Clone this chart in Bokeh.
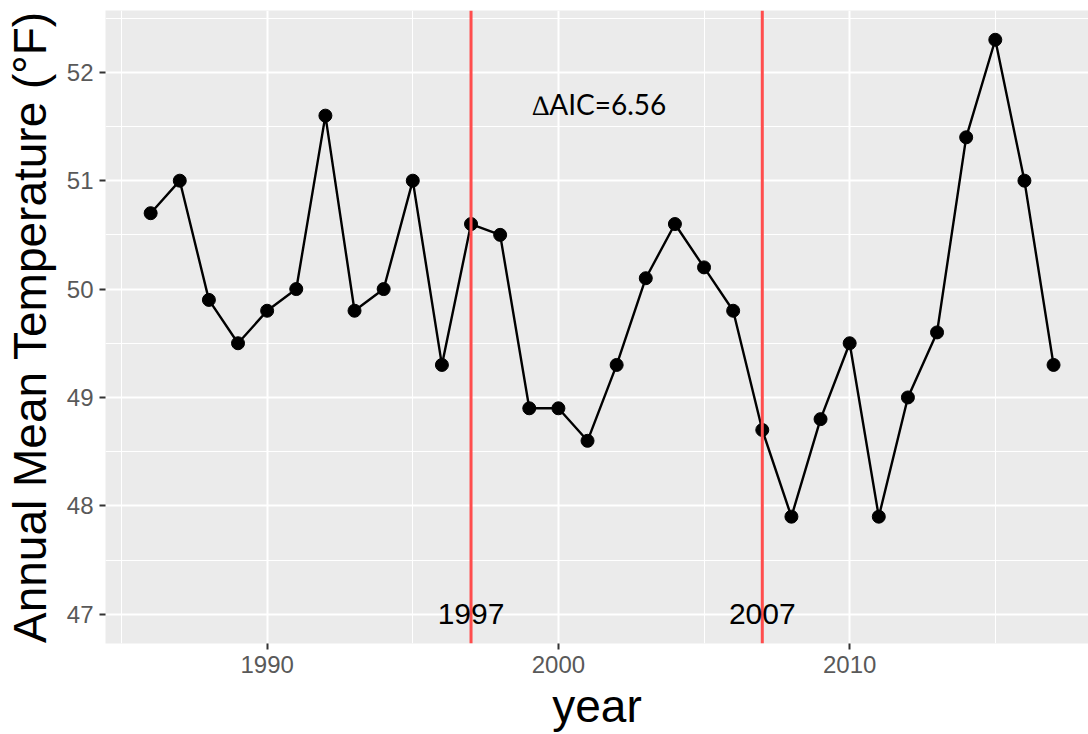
from bokeh.plotting import figure
from bokeh.models import Range1d, FixedTicker, Span, Label
from bokeh.embed import file_html
from bokeh.resources import INLINE

years = list(range(1986, 2018))
temps = [50.7, 51.0, 49.9, 49.5, 49.8, 50.0, 51.6, 49.8, 50.0, 51.0,
         49.3, 50.6, 50.5, 48.9, 48.9, 48.6, 49.3, 50.1, 50.6, 50.2,
         49.8, 48.7, 47.9, 48.8, 49.5, 47.9, 49.0, 49.6, 51.4, 52.3,
         51.0, 49.3]
breaks = [1997, 2007]
break_labels = ["1997", "2007"]
x_ticks = [1990, 2000, 2010]
x_minor = [1985, 1995, 2005, 2015]
y_ticks = [47, 48, 49, 50, 51, 52]
y_minor = [46.5, 47.5, 48.5, 49.5, 50.5, 51.5, 52.5]
aic_text = "\u2206AIC=6.56"

FONT = "Liberation Sans"

p = figure(width=1088, height=734, output_backend="svg", toolbar_location=None,
           x_range=Range1d(1984.45, 2018.2), y_range=Range1d(46.73, 52.57),
           min_border_left=105, min_border_right=0, min_border_top=10,
           min_border_bottom=90)
p.outline_line_color = None
p.background_fill_color = "#ebebeb"
p.border_fill_color = "white"

p.xaxis.ticker = FixedTicker(ticks=x_ticks, minor_ticks=x_minor)
p.yaxis.ticker = FixedTicker(ticks=y_ticks, minor_ticks=y_minor)
for ax in (p.xaxis, p.yaxis):
    ax.axis_line_color = None
    ax.major_tick_line_color = "#333333"
    ax.major_tick_line_width = 2
    ax.major_tick_out = 6
    ax.major_tick_in = 0
    ax.minor_tick_line_color = None
    ax.major_label_text_font = FONT
    ax.major_label_text_font_size = "24px"
    ax.major_label_text_color = "#595959"
    ax.axis_label_text_font = FONT
    ax.axis_label_text_font_size = "46px"
    ax.axis_label_text_font_style = "normal"
    ax.axis_label_text_color = "black"
p.xaxis.axis_label = "year"
p.yaxis.axis_label = "Annual Mean Temperature (\u00b0F)"
p.xaxis.major_label_standoff = 6
p.yaxis.major_label_standoff = 6
p.xaxis.axis_label_standoff = 4
p.yaxis.axis_label_standoff = 8

for g in (p.xgrid, p.ygrid):
    g.grid_line_color = "white"
    g.grid_line_width = 2
    g.minor_grid_line_color = "white"
    g.minor_grid_line_width = 1

for b in breaks:
    p.add_layout(Span(location=b, dimension="height", line_color="#ff4d4d",
                      line_width=3))

p.line(years, temps, line_color="black", line_width=2.4)
p.scatter(years, temps, size=13, fill_color="black", line_color="black")

for b, t in zip(breaks, break_labels):
    p.add_layout(Label(x=b, y=47, text=t, text_align="center",
                       text_baseline="middle", text_font=FONT,
                       text_font_size="30px", text_color="black"))

p.add_layout(Label(x=2001.4, y=51.71, text=aic_text, text_align="center",
                   text_baseline="middle", text_font="Lato",
                   text_font_size="28px", text_color="black"))

open("out.html", "w").write(file_html(p, INLINE))
